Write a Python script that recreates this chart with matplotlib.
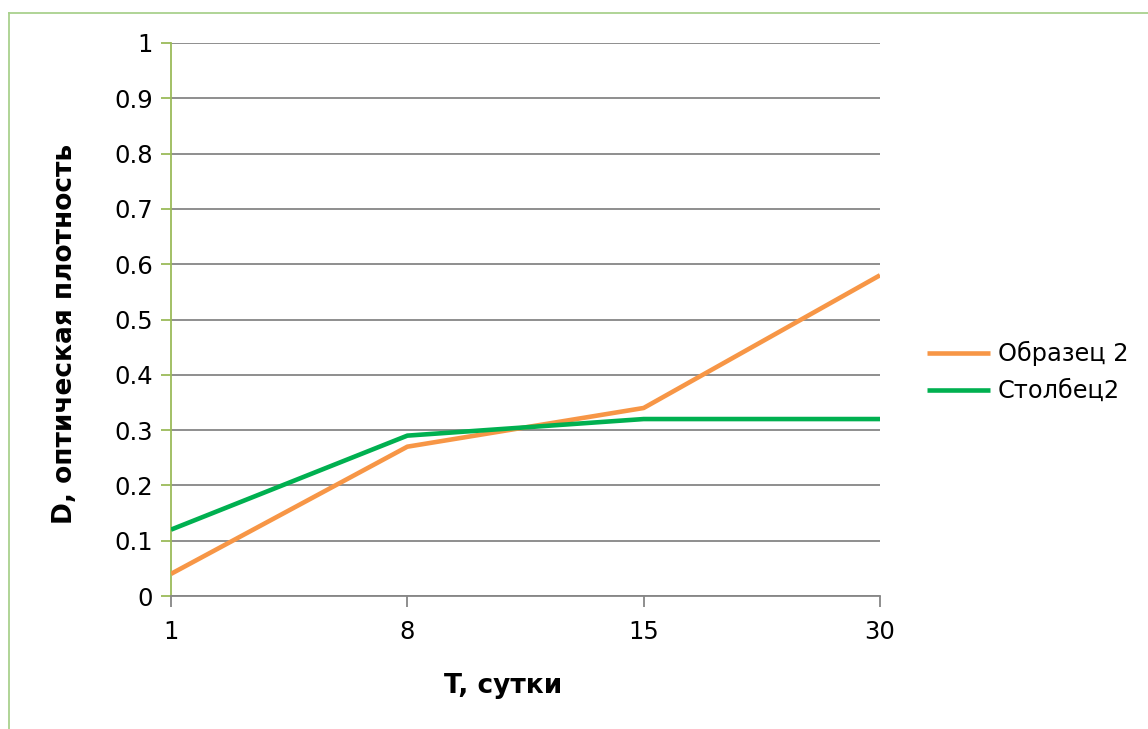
import matplotlib.pyplot as plt
from matplotlib.lines import Line2D

days = ["1", "8", "15", "30"]
obrazec2 = [0.04, 0.27, 0.34, 0.58]
stolbec2 = [0.12, 0.29, 0.32, 0.32]

plt.rcParams["font.family"] = ["DejaVu Sans"]

fig = plt.figure(figsize=(11.48, 7.29), dpi=100)
ax = fig.add_axes([171 / 1148, 133 / 729, 709 / 1148, 553 / 729])

x = range(len(days))
ax.plot(x, obrazec2, color="#F79646", lw=3.3, label="Образец 2", solid_capstyle="butt", zorder=3)
ax.plot(x, stolbec2, color="#00B050", lw=3.3, label="Столбец2", solid_capstyle="butt", zorder=3)

ax.set_xlim(0, len(days) - 1)
ax.set_ylim(0, 1)
ax.set_xticks(list(x))
ax.set_xticklabels(days)
ax.set_yticks([i / 10 for i in range(11)])
ax.set_yticklabels(["0"] + [f"{i / 10:g}" for i in range(1, 10)] + ["1"])

ax.grid(axis="y", color="#868686", lw=1.3, zorder=1)
for s in ["top", "right"]:
    ax.spines[s].set_visible(False)
ax.spines["left"].set_color("#9BBB59")
ax.spines["left"].set_linewidth(1.3)
ax.spines["bottom"].set_color("#868686")
ax.spines["bottom"].set_linewidth(1.3)
ax.tick_params(axis="y", color="#9BBB59", length=7, width=1.3, labelsize=17.5, pad=6)
ax.tick_params(axis="x", color="#868686", length=8, width=1.3, labelsize=17.5, pad=9)

ax.set_xlabel("T, сутки", fontsize=19, fontweight="bold")
ax.xaxis.set_label_coords((503 - 171) / 709, -(673 - 596) / 553)
ax.set_ylabel("D, оптическая плотность", fontsize=19, fontweight="bold")
ax.yaxis.set_label_coords(-(171 - 78) / 709, (596 - 334) / 553)

ax.legend(loc="center left", bbox_to_anchor=(1.053, (596 - 372) / 553), frameon=False, fontsize=17.3,
          handlelength=2.6, handletextpad=0.35, labelspacing=0.55, borderaxespad=0)

# light green outer border
fig.add_artist(Line2D([9 / 1148, 9 / 1148], [0, 1 - 13 / 729], color="#A9D18E", lw=1.3))
fig.add_artist(Line2D([9 / 1148, 1], [1 - 13 / 729, 1 - 13 / 729], color="#A9D18E", lw=1.3))

fig.savefig("out.png", dpi=100)
